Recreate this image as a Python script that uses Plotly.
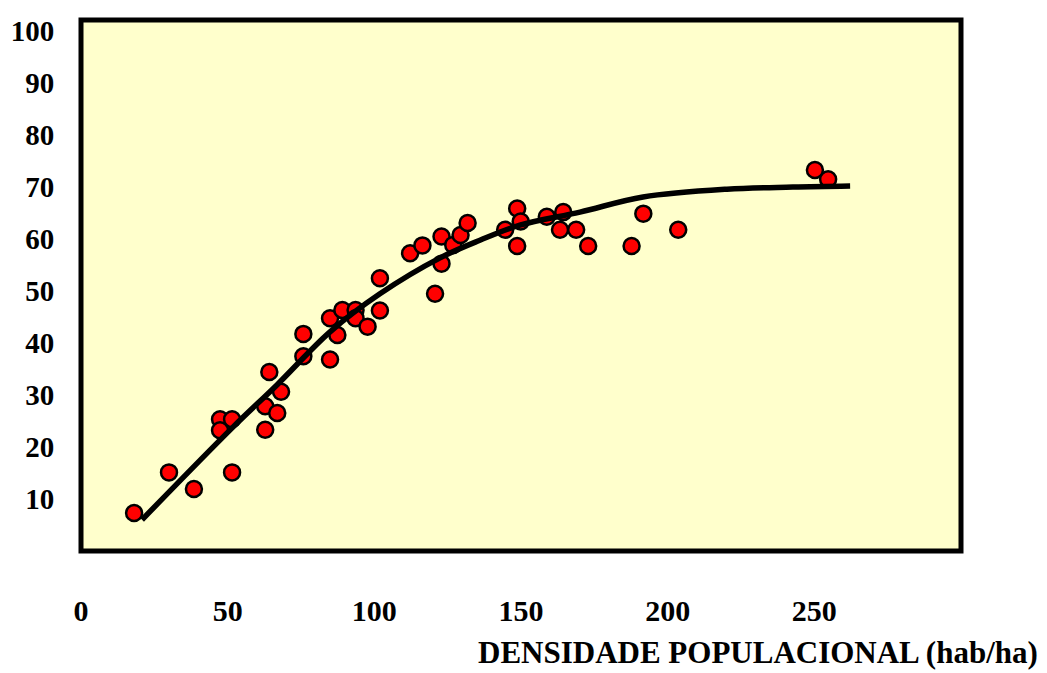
import plotly.graph_objects as go

# Observed points: population density (hab/ha) vs value
density = [18.1, 30.0, 38.5, 47.4, 47.4, 51.5, 51.5, 62.8, 62.8, 64.2, 66.9, 68.2,
           75.8, 75.8, 84.9, 84.9, 87.4, 89.1, 93.6, 93.6, 97.7, 101.9, 101.9,
           112.2, 116.4, 120.7, 122.9, 122.9, 126.9, 129.4, 131.8, 144.6, 148.7,
           148.7, 149.9, 158.8, 163.3, 164.4, 168.8, 172.9, 187.7, 191.7, 203.6,
           250.2, 254.7]
valor = [7.3, 15.1, 11.9, 25.3, 23.2, 25.3, 15.1, 27.8, 23.3, 34.4, 26.5, 30.6,
         41.7, 37.4, 36.8, 44.7, 41.5, 46.3, 46.3, 44.7, 43.1, 52.4, 46.2,
         57.2, 58.7, 49.4, 60.4, 55.2, 58.8, 60.7, 63.0, 61.7, 65.8,
         58.6, 63.3, 64.2, 61.7, 65.1, 61.7, 58.6, 58.6, 64.8, 61.7,
         73.2, 71.4]

# Fitted curve
curva_x = [20.8, 51.8, 66.8, 84.9, 101.9, 122.4, 136.0, 149.6, 170.1, 191.6, 220.2, 242.7, 262.2]
curva_y = [6.0, 23.8, 31.9, 42.1, 49.4, 56.3, 59.7, 62.6, 65.1, 68.0, 69.5, 69.9, 70.1]

x_ticks = [0, 50, 100, 150, 200, 250]
y_ticks = [10, 20, 30, 40, 50, 60, 70, 80, 90, 100]
x_title = "DENSIDADE POPULACIONAL (hab/ha)"

font_family = "Liberation Serif, Times New Roman, serif"

fig = go.Figure()
fig.add_trace(go.Scatter(
    x=density, y=valor, mode="markers",
    marker=dict(symbol="circle", size=16, color="#FF0000",
                line=dict(color="black", width=2.5)),
    showlegend=False, hoverinfo="x+y"))
fig.add_trace(go.Scatter(
    x=curva_x, y=curva_y, mode="lines",
    line=dict(color="black", width=5.5, shape="spline", smoothing=1.0),
    showlegend=False, hoverinfo="skip"))

fig.update_layout(
    width=1039, height=665,
    margin=dict(l=73, r=86, t=12, b=122),
    paper_bgcolor="white", plot_bgcolor="#FFFFCC",
    font=dict(family=font_family, color="black"),
    xaxis=dict(range=[0, 300], tickvals=x_ticks, showgrid=False, zeroline=False,
               showline=False, ticks="outside", ticklen=33, tickcolor="rgba(0,0,0,0)",
               automargin=False,
               tickfont=dict(family=font_family, size=30, color="black", weight="bold")),
    yaxis=dict(range=[0, 102], tickvals=y_ticks, showgrid=False, zeroline=False,
               showline=False, ticks="outside", ticklen=20, tickcolor="rgba(0,0,0,0)",
               automargin=False,
               tickfont=dict(family=font_family, size=29, color="black", weight="bold")),
    shapes=[dict(type="rect", xref="paper", yref="paper", x0=0, x1=1, y0=0, y1=1,
                 line=dict(color="black", width=5), layer="above")],
    annotations=[dict(text=x_title, xref="paper", yref="paper",
                      x=(1040 - 81) / 880, y=(551 - 652) / 531,
                      xanchor="right", yanchor="middle", showarrow=False,
                      font=dict(family=font_family, size=31, color="black", weight="bold"))],
)

fig.write_html("out.html")
